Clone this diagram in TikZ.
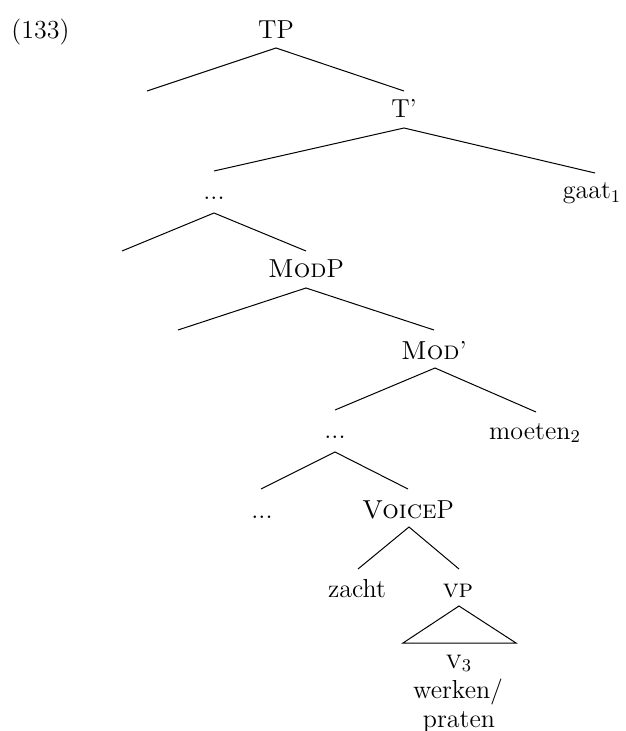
\documentclass[tikz,border=0pt]{standalone}
\begin{document}
\begin{tikzpicture}[x=0.5pt,y=-0.5pt,
  lbl/.style={anchor=base,inner sep=0pt,font=\fontsize{13}{15.6}\selectfont},
  branch/.style={draw=black,line width=0.5pt}]
\useasboundingbox (0,0) rectangle (625,731);
% labels
\node[lbl,anchor=base west] (ex) at (11,39) {(133)};
\node[lbl] (tp) at (276,39) {TP};
\node[lbl] (tbar) at (404,118) {T'};
\node[lbl] (dots1) at (214,200) {...};
\node[lbl] (gaat) at (592,199) {gaat$_1$};
\node[lbl] (modp) at (306,278) {\textsc{Mod}P};
\node[lbl] (modbar) at (434,359) {\textsc{Mod}'};
\node[lbl] (dots2) at (335,438) {...};
\node[lbl] (moeten) at (535,439) {moeten$_2$};
\node[lbl] (dots3) at (262,518) {...};
\node[lbl] (voicep) at (408,518) {\textsc{Voice}P};
\node[lbl] (zacht) at (357,597) {zacht};
\node[lbl] (vp) at (458,597) {\textsc{vp}};
\node[lbl] (v3) at (459,668) {\textsc{v}$_3$};
\node[lbl] (werken) at (458,698) {werken/};
\node[lbl] (praten) at (459,727) {praten};
% branch points
\coordinate (tpA) at (276,48);
\coordinate (tpL) at (147,91);
\coordinate (tpR) at (404,91);
\coordinate (tbA) at (404,128);
\coordinate (tbL) at (214,171);
\coordinate (tbR) at (595,173);
\coordinate (d1A) at (214,213);
\coordinate (d1L) at (122,251);
\coordinate (d1R) at (306,251);
\coordinate (mpA) at (306,288);
\coordinate (mpL) at (178,330);
\coordinate (mpR) at (434,330);
\coordinate (mbA) at (435,368);
\coordinate (mbL) at (335,410);
\coordinate (mbR) at (536,412);
\coordinate (d2A) at (335,452);
\coordinate (d2L) at (261,489);
\coordinate (d2R) at (408,489);
\coordinate (vcA) at (409,527);
\coordinate (vcL) at (358,569);
\coordinate (vcR) at (459,569);
\coordinate (trA) at (459,606);
\coordinate (trL) at (403,643);
\coordinate (trR) at (516,643);
% branches
\draw[branch] (tpL) -- (tpA) -- (tpR);
\draw[branch] (tbL) -- (tbA) -- (tbR);
\draw[branch] (d1L) -- (d1A) -- (d1R);
\draw[branch] (mpL) -- (mpA) -- (mpR);
\draw[branch] (mbL) -- (mbA) -- (mbR);
\draw[branch] (d2L) -- (d2A) -- (d2R);
\draw[branch] (vcL) -- (vcA) -- (vcR);
\draw[branch] (trA) -- (trL) -- (trR) -- cycle;
\end{tikzpicture}
\end{document}
